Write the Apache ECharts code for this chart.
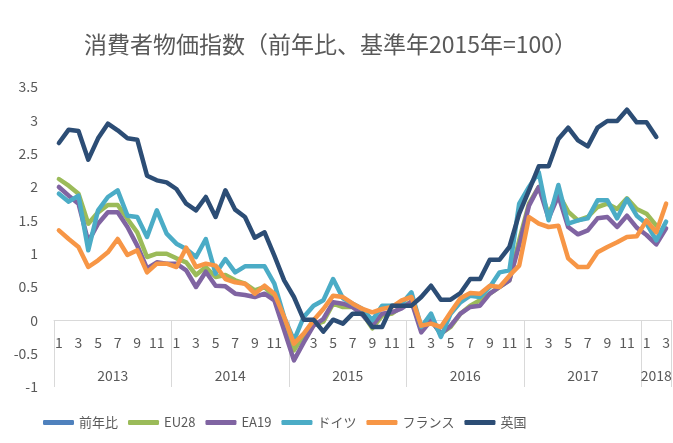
<!DOCTYPE html>
<html>
<head>
<meta charset="utf-8">
<script src="https://cdn.jsdelivr.net/npm/echarts@6/dist/echarts.min.js"></script>
<style>
html, body { margin: 0; padding: 0; background: #fff; }
#chart { width: 673px; height: 443px; }
</style>
</head>
<body>
<div id="chart"></div>
<script>
// 年ごとの月数（2018年は3月まで）
const years = ['2013', '2014', '2015', '2016', '2017', '2018'];
const monthsPerYear = [12, 12, 12, 12, 12, 3];

const eu28 = [
    2.12, 2.02, 1.90, 1.45, 1.62, 1.73, 1.73, 1.52, 1.32, 0.95, 1.00, 1.00,
    0.93, 0.87, 0.68, 0.80, 0.65, 0.68, 0.60, 0.55, 0.45, 0.50, 0.35, -0.05,
    -0.45, -0.22, -0.07, -0.02, 0.25, 0.20, 0.20, 0.10, -0.12, 0.07, 0.10, 0.20,
    0.28, -0.10, 0.00, -0.20, -0.10, 0.10, 0.22, 0.30, 0.40, 0.50, 0.60, 1.20,
    1.75, 2.00, 1.60, 1.90, 1.63, 1.50, 1.55, 1.70, 1.75, 1.67, 1.83, 1.67,
    1.60, 1.42, null
];
const ea19 = [
    2.00, 1.87, 1.75, 1.18, 1.45, 1.62, 1.62, 1.40, 1.12, 0.78, 0.87, 0.85,
    0.85, 0.75, 0.50, 0.73, 0.52, 0.51, 0.40, 0.38, 0.35, 0.40, 0.30, -0.15,
    -0.60, -0.33, -0.08, 0.02, 0.27, 0.25, 0.20, 0.08, -0.08, 0.10, 0.12, 0.18,
    0.28, -0.18, 0.00, -0.20, -0.08, 0.10, 0.20, 0.22, 0.40, 0.50, 0.60, 1.13,
    1.72, 2.00, 1.53, 1.87, 1.40, 1.29, 1.35, 1.53, 1.55, 1.40, 1.57, 1.39,
    1.28, 1.14, 1.38
];
const germany = [
    1.90, 1.78, 1.87, 1.05, 1.65, 1.85, 1.95, 1.57, 1.55, 1.25, 1.65, 1.30,
    1.15, 1.07, 0.95, 1.22, 0.70, 0.92, 0.72, 0.81, 0.81, 0.81, 0.55, 0.05,
    -0.30, 0.05, 0.22, 0.30, 0.62, 0.33, 0.25, 0.17, 0.00, 0.22, 0.22, 0.25,
    0.42, -0.10, 0.10, -0.25, 0.10, 0.27, 0.37, 0.35, 0.50, 0.72, 0.75, 1.75,
    2.00, 2.22, 1.50, 2.03, 1.45, 1.50, 1.53, 1.80, 1.80, 1.53, 1.82, 1.57,
    1.45, 1.20, 1.48
];
const france = [
    1.35, 1.22, 1.10, 0.80, 0.90, 1.02, 1.22, 0.98, 1.05, 0.72, 0.85, 0.85,
    0.80, 1.09, 0.80, 0.85, 0.82, 0.62, 0.57, 0.55, 0.40, 0.52, 0.40, 0.05,
    -0.35, -0.20, 0.00, 0.17, 0.37, 0.35, 0.25, 0.17, 0.12, 0.17, 0.20, 0.30,
    0.35, -0.08, -0.05, -0.10, 0.12, 0.33, 0.41, 0.40, 0.52, 0.50, 0.67, 0.82,
    1.55, 1.45, 1.40, 1.42, 0.93, 0.80, 0.80, 1.02, 1.10, 1.17, 1.25, 1.26,
    1.50, 1.32, 1.75
];
const uk = [
    2.66, 2.86, 2.84, 2.41, 2.73, 2.95, 2.85, 2.73, 2.71, 2.17, 2.10, 2.07,
    1.97, 1.75, 1.65, 1.85, 1.55, 1.95, 1.66, 1.55, 1.24, 1.32, 0.97, 0.60,
    0.35, 0.01, 0.01, -0.17, 0.01, -0.05, 0.10, 0.10, -0.10, -0.10, 0.22, 0.22,
    0.22, 0.35, 0.52, 0.31, 0.31, 0.41, 0.62, 0.62, 0.91, 0.91, 1.10, 1.60,
    1.95, 2.31, 2.31, 2.72, 2.89, 2.70, 2.61, 2.89, 2.99, 2.99, 3.16, 2.97,
    2.97, 2.75, null
];

const seriesNames = ['前年比', 'EU28', 'EA19', 'ドイツ', 'フランス', '英国'];
const seriesColors = ['#4F81BD', '#9BBB59', '#8064A2', '#4BACC6', '#F79646', '#2C4D75'];
const seriesData = [[], eu28, ea19, germany, france, uk];

// 月ラベルと年の区切り
let monthLabels = [];
let yearTicks = [0];
let yearCenters = [];
let pos = 0;
monthsPerYear.forEach(n => {
    for (let m = 1; m <= n; m++) monthLabels.push(String(m));
    yearCenters.push(pos + n / 2);
    pos += n;
    yearTicks.push(pos);
});

const FONT = '"Noto Sans CJK JP", "Noto Sans", sans-serif';
const GRAY = '#595959';
// x軸を0の位置へ（-1〜0 の分だけ上げる）
const ZERO_OFFSET = -67;

let myChart = echarts.init(document.getElementById('chart'));
let option = {
    animation: false,
    title: {
        text: '消費者物価指数（前年比、基準年2015年=100）',
        left: 79,
        top: 28,
        textStyle: { fontFamily: FONT, fontSize: 23, fontWeight: 'normal', color: GRAY }
    },
    legend: {
        data: seriesNames,
        left: 38,
        top: 411,
        icon: 'roundRect',
        itemWidth: 31,
        itemHeight: 5,
        itemGap: 10,
        textStyle: { fontFamily: FONT, fontSize: 13, color: GRAY }
    },
    grid: { left: 54, right: 2, top: 87, bottom: 56, outerBoundsMode: 'none' },
    xAxis: [
        {
            type: 'category',
            data: monthLabels,
            boundaryGap: true,
            position: 'bottom',
            offset: ZERO_OFFSET,
            axisLine: { onZero: false, lineStyle: { color: '#D9D9D9', width: 1 } },
            axisTick: { show: false },
            axisLabel: { interval: 1, margin: 16, fontFamily: FONT, fontSize: 14, color: GRAY },
            splitLine: { show: false }
        },
        {
            type: 'value',
            min: 0,
            max: pos,
            position: 'bottom',
            offset: ZERO_OFFSET,
            axisLine: { show: false, onZero: false },
            axisTick: { show: true, length: 67, customValues: yearTicks, lineStyle: { color: '#D9D9D9' } },
            axisLabel: {
                customValues: yearCenters,
                margin: 49,
                fontFamily: FONT, fontSize: 14, color: GRAY,
                formatter: v => years[yearCenters.indexOf(v)] || ''
            },
            splitLine: { show: false }
        }
    ],
    yAxis: {
        type: 'value',
        min: -1,
        max: 3.5,
        interval: 0.5,
        axisLine: { show: false, onZero: false },
        axisTick: { show: false },
        splitLine: { show: false },
        axisLabel: { margin: 16, fontFamily: FONT, fontSize: 14, color: GRAY }
    },
    series: seriesNames.map((name, k) => ({
        name: name,
        type: 'line',
        xAxisIndex: 0,
        data: seriesData[k],
        symbol: 'none',
        color: seriesColors[k],
        lineStyle: { width: 4.5, cap: 'round', join: 'round' }
    }))
};
myChart.setOption(option);
</script>
</body>
</html>
